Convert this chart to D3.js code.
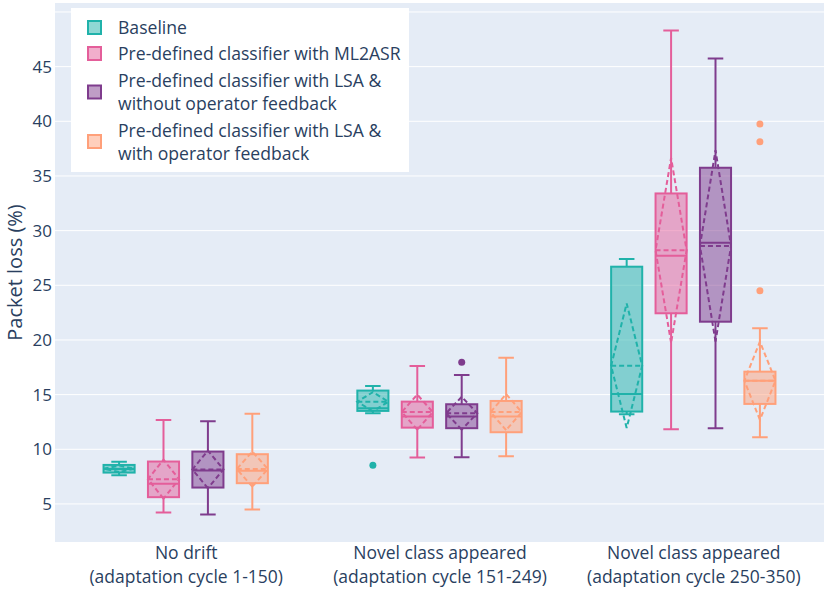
<!DOCTYPE html>
<html><head><meta charset="utf-8">
<script src="https://cdn.jsdelivr.net/npm/d3@7/dist/d3.min.js"></script>
<style>body{margin:0;background:#fff;} svg text{font-family:"Open Sans",sans-serif;fill:#2a3f5f;}</style>
</head><body><svg id="c" width="830" height="595"></svg>
<script>
// ---- data ----
const categories = [
  ["No drift", "(adaptation cycle 1-150)"],
  ["Novel class appeared", "(adaptation cycle 151-249)"],
  ["Novel class appeared", "(adaptation cycle 250-350)"]
];
const seriesNames = [
  ["Baseline"],
  ["Pre-defined classifier with ML2ASR"],
  ["Pre-defined classifier with LSA &", "without operator feedback"],
  ["Pre-defined classifier with LSA &", "with operator feedback"]
];
const seriesColors = ["#20B2AA", "#E45E9A", "#7F3C8D", "#FFA07A"];
const yTickValues = [5, 10, 15, 20, 25, 30, 35, 40, 45];
const yGridValues = [5, 10, 15, 20, 25, 30, 35, 40, 45, 50];
// per series: [cat0, cat1, cat2]
const lowerFence = [[7.63, 13.3, 13.2], [4.21, 9.24, 11.84], [4.03, 9.28, 11.93], [4.49, 9.37, 11.1]];
const q1 =         [[7.87, 13.51, 13.45], [5.62, 11.98, 22.44], [6.5, 11.93, 21.67], [6.9, 11.56, 14.15]];
const median =     [[8.2, 13.76, 15.06], [6.84, 12.99, 27.7], [8.05, 12.99, 28.9], [8.03, 12.99, 16.28]];
const q3 =         [[8.57, 15.37, 26.7], [8.88, 14.36, 33.4], [9.79, 14.12, 35.75], [9.55, 14.42, 17.1]];
const upperFence = [[8.85, 15.8, 27.4], [12.69, 17.62, 48.3], [12.57, 16.8, 45.75], [13.24, 18.38, 21.07]];
const meanVals =   [[8.22, 14.35, 17.64], [7.27, 13.4, 28.2], [8.16, 13.3, 28.6], [8.19, 13.4, 16.27]];
const sdVals =     [[0.3, 0.88, 5.7], [1.78, 1.6, 8.45], [1.72, 1.5, 8.75], [1.6, 1.65, 3.58]];
const outliers =   [[[], [8.55], []], [[], [], []], [[], [17.96], []], [[], [], [24.5, 38.13, 39.75]]];

// ---- layout ----
const svg = d3.select("#c");
const plot = {left: 55, right: 824, top: 3, bottom: 542};
const x = d3.scaleLinear().domain([-0.515, 2.515]).range([plot.left, plot.right]);
const y = d3.scaleLinear().domain([1.52, 50.82]).range([plot.bottom, plot.top]);
const nSeries = seriesNames.length;
const slot = 0.7 / nSeries;
const boxW = slot * 0.7;

svg.append("rect").attr("x", plot.left).attr("y", plot.top)
  .attr("width", plot.right - plot.left).attr("height", plot.bottom - plot.top)
  .attr("fill", "#E5ECF6");

// gridlines
svg.append("g").selectAll("line").data(yGridValues).join("line")
  .attr("x1", plot.left).attr("x2", plot.right)
  .attr("y1", d => y(d)).attr("y2", d => y(d))
  .attr("stroke", "#fff").attr("stroke-width", 1);

// y axis labels
const yAxis = d3.axisLeft(y).tickValues(yTickValues).tickSize(0).tickPadding(3);
const gy = svg.append("g").attr("transform", `translate(${plot.left},0)`).call(yAxis);
gy.select(".domain").remove();
gy.selectAll("text").style("font-size", "17px").style("font-family", "'Open Sans',sans-serif").attr("fill", "#2a3f5f");

// x axis labels
const xAxis = d3.axisBottom(x).tickValues(d3.range(categories.length)).tickSize(0).tickFormat("");
const gx = svg.append("g").attr("transform", `translate(0,${plot.bottom})`).call(xAxis);
gx.select(".domain").remove();
gx.selectAll(".tick").each(function(d) {
  const t = d3.select(this).append("text").attr("text-anchor", "middle").style("font-size", "17.5px");
  categories[d].forEach((ln, i) => t.append("tspan").attr("x", 0).attr("y", 17 + i * 24).text(ln));
});

// y title
svg.append("text").attr("transform", `translate(22,${(plot.top + plot.bottom) / 2}) rotate(-90)`)
  .attr("text-anchor", "middle").style("font-size", "20px").text("Packet loss (%)");

// boxes
const gBoxes = svg.append("g");
for (let s = 0; s < nSeries; s++) {
  const col = seriesColors[s];
  for (let c = 0; c < categories.length; c++) {
    const cx = c + (s - (nSeries - 1) / 2) * slot;
    const x0 = x(cx - boxW / 2), x1 = x(cx + boxW / 2), xc = x(cx);
    const capHalf = (x1 - x0) / 4;
    const g = gBoxes.append("g");
    g.append("rect").attr("x", x0).attr("y", y(q3[s][c]))
      .attr("width", x1 - x0).attr("height", y(q1[s][c]) - y(q3[s][c]))
      .attr("fill", col).attr("fill-opacity", 0.5)
      .attr("stroke", col).attr("stroke-width", 2);
    const path = d3.path();
    path.moveTo(x0, y(median[s][c])); path.lineTo(x1, y(median[s][c]));
    path.moveTo(xc, y(q1[s][c])); path.lineTo(xc, y(lowerFence[s][c]));
    path.moveTo(xc, y(q3[s][c])); path.lineTo(xc, y(upperFence[s][c]));
    path.moveTo(xc - capHalf, y(lowerFence[s][c])); path.lineTo(xc + capHalf, y(lowerFence[s][c]));
    path.moveTo(xc - capHalf, y(upperFence[s][c])); path.lineTo(xc + capHalf, y(upperFence[s][c]));
    g.append("path").attr("d", path.toString()).attr("fill", "none")
      .attr("stroke", col).attr("stroke-width", 2);
    const m = meanVals[s][c], sd = sdVals[s][c];
    const mp = d3.path();
    mp.moveTo(x0, y(m)); mp.lineTo(x1, y(m));
    mp.moveTo(xc, y(m - sd)); mp.lineTo(x0, y(m)); mp.lineTo(xc, y(m + sd)); mp.lineTo(x1, y(m)); mp.closePath();
    g.append("path").attr("d", mp.toString()).attr("fill", "none")
      .attr("stroke", col).attr("stroke-width", 2).attr("stroke-dasharray", "5,3");
    g.selectAll("circle").data(outliers[s][c]).join("circle")
      .attr("cx", xc).attr("cy", d => y(d)).attr("r", 3.5).attr("fill", col);
  }
}

// legend
const lg = svg.append("g");
lg.append("rect").attr("x", 71).attr("y", 8).attr("width", 338).attr("height", 164).attr("fill", "#fff");
const itemCenters = [28, 54, 92.5, 142];
seriesNames.forEach((lines, i) => {
  const cy = itemCenters[i];
  lg.append("rect").attr("x", 88).attr("y", cy - 7).attr("width", 13).attr("height", 13)
    .attr("fill", seriesColors[i]).attr("fill-opacity", 0.5)
    .attr("stroke", seriesColors[i]).attr("stroke-width", 2);
  const t = lg.append("text").style("font-size", "17.6px");
  const lh = 23;
  const startY = cy - (lines.length - 1) * lh / 2;
  lines.forEach((ln, j) => t.append("tspan").attr("x", 118).attr("y", startY + j * lh).attr("dy", "0.35em").text(ln));
});
</script></body></html>
